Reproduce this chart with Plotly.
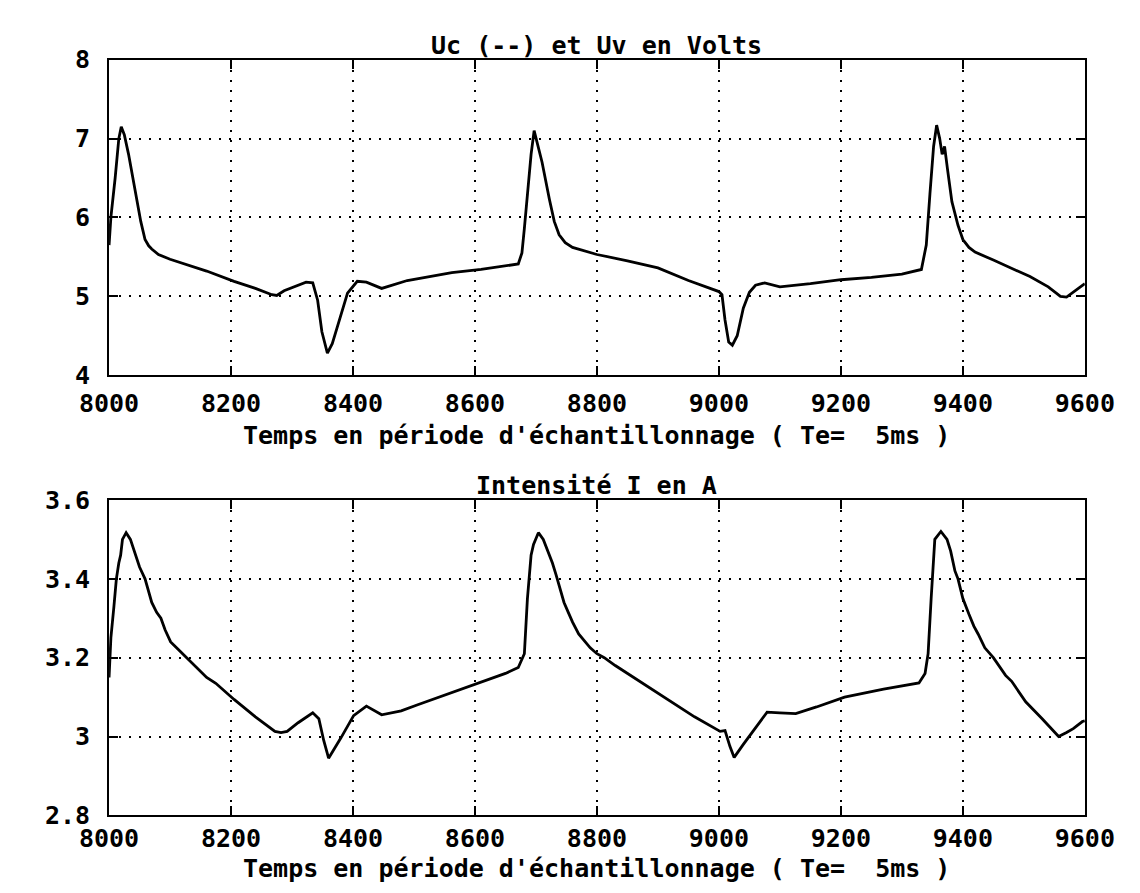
import plotly.graph_objects as go

# ---- data ----
# Uv (top panel), volts
t_uv = [8000, 8003, 8010, 8016, 8020, 8025, 8032, 8040, 8048, 8052,
        8059, 8065, 8070, 8081, 8100, 8121, 8160, 8205, 8240, 8267,
        8275, 8287, 8305, 8323, 8334, 8342, 8349, 8358, 8366, 8375,
        8391, 8407, 8422, 8447, 8489, 8562, 8610, 8671, 8677, 8681,
        8686, 8692, 8697, 8702, 8710, 8722, 8730, 8738, 8748, 8760,
        8780, 8800, 8850, 8900, 8950, 9000, 9005, 9010, 9016, 9022,
        9030, 9040, 9050, 9060, 9075, 9100, 9150, 9200, 9250, 9300,
        9332, 9340, 9346, 9352, 9357, 9362, 9366, 9370, 9375, 9382,
        9392, 9400, 9410, 9420, 9450, 9480, 9510, 9540, 9560, 9570,
        9585, 9600]
uv = [5.65, 6.0, 6.5, 7.0, 7.15, 7.05, 6.8, 6.45, 6.1, 5.95,
      5.72, 5.64, 5.6, 5.53, 5.47, 5.42, 5.32, 5.19, 5.10, 5.02,
      5.01, 5.07, 5.13, 5.18, 5.17, 4.95, 4.55, 4.28, 4.40, 4.64,
      5.04, 5.19, 5.18, 5.10, 5.20, 5.30, 5.34, 5.41, 5.55, 5.86,
      6.27, 6.8, 7.1, 6.95, 6.7, 6.23, 5.95, 5.78, 5.68, 5.62,
      5.57, 5.53, 5.45, 5.36, 5.2, 5.06, 5.02, 4.7, 4.42, 4.38,
      4.5, 4.85, 5.05, 5.14, 5.17, 5.12, 5.16, 5.21, 5.24, 5.28,
      5.34, 5.65, 6.3, 6.9, 7.17, 7.0, 6.8, 6.9, 6.6, 6.2,
      5.9, 5.72, 5.62, 5.56, 5.46, 5.36, 5.25, 5.12, 5.0, 4.99,
      5.07, 5.16]

# I (bottom panel), amperes
t_i = [8000, 8003, 8008, 8012, 8016, 8019, 8022, 8028, 8035, 8044,
       8050, 8059, 8064, 8070, 8078, 8085, 8092, 8101, 8114, 8127,
       8140, 8160, 8175, 8205, 8240, 8272, 8282, 8292, 8310, 8334,
       8344, 8352, 8360, 8370, 8380, 8401, 8422, 8447, 8479, 8505,
       8560, 8610, 8650, 8671, 8681, 8686, 8692, 8696, 8704, 8712,
       8720, 8727, 8733, 8740, 8746, 8753, 8760, 8770, 8778, 8789,
       8800, 8812, 8830, 8860, 8890, 8919, 8960, 9002, 9010, 9018,
       9025, 9040, 9059, 9079, 9100, 9126, 9160, 9206, 9270, 9328,
       9338, 9343, 9348, 9354, 9364, 9374, 9380, 9387, 9392, 9400,
       9410, 9418, 9425, 9436, 9450, 9470, 9480, 9503, 9530, 9557,
       9570, 9581, 9596, 9600]
cur = [3.15, 3.25, 3.33, 3.40, 3.44, 3.46, 3.50, 3.517, 3.50, 3.46,
       3.43, 3.40, 3.37, 3.34, 3.315, 3.30, 3.27, 3.24, 3.22, 3.20,
       3.18, 3.15, 3.135, 3.094, 3.05, 3.013, 3.01, 3.013, 3.035, 3.06,
       3.045, 2.99, 2.945, 2.97, 2.996, 3.053, 3.077, 3.055, 3.065, 3.08,
       3.11, 3.138, 3.16, 3.175, 3.21, 3.35, 3.46, 3.487, 3.517, 3.50,
       3.47, 3.44, 3.41, 3.37, 3.34, 3.315, 3.29, 3.26, 3.245, 3.225,
       3.21, 3.20, 3.18, 3.15, 3.12, 3.09, 3.05, 3.013, 3.015, 2.975,
       2.947, 2.98, 3.02, 3.062, 3.060, 3.058, 3.075, 3.10, 3.12, 3.136,
       3.16, 3.21, 3.35, 3.50, 3.52, 3.50, 3.47, 3.42, 3.40, 3.35,
       3.31, 3.28, 3.26, 3.225, 3.20, 3.155, 3.14, 3.088, 3.045, 3.00,
       3.01, 3.02, 3.038, 3.04]

x_ticks = [8000, 8200, 8400, 8600, 8800, 9000, 9200, 9400, 9600]
x_ticktext = ["8000", "8200", "8400", "8600", "8800", "9000", "9200", "9400", "9600"]
y1_ticks = [4, 5, 6, 7, 8]
y1_ticktext = ["4", "5", "6", "7", "8"]
y2_ticks = [2.8, 3.0, 3.2, 3.4, 3.6]
y2_ticktext = ["2.8", "3", "3.2", "3.4", "3.6"]

title_top = "Uc (--) et Uv en Volts"
title_bot = "Intensité I en A"
xlabel = "Temps en période d'échantillonnage ( Te=  5ms )"

# ---- figure ----
W, H = 1140, 893
FONT = dict(family="DejaVu Sans Mono", size=25, color="black", weight="bold")

def py(p):
    return 1 - p / H

fig = go.Figure()
fig.add_trace(go.Scatter(x=t_uv, y=uv, mode="lines", line=dict(color="black", width=2.8),
                         xaxis="x", yaxis="y", showlegend=False))
fig.add_trace(go.Scatter(x=t_i, y=cur, mode="lines", line=dict(color="black", width=2.8),
                         xaxis="x2", yaxis="y2", showlegend=False))

xdom = [75 / W, 1105 / W]
axis_common = dict(showline=True, linecolor="black", linewidth=2, mirror="ticks",
                   ticks="inside", ticklen=9, tickwidth=2, tickcolor="black",
                   showgrid=True, gridcolor="black", gridwidth=2, griddash="2px,8px",
                   zeroline=False, tickfont=FONT)

fig.update_layout(
    width=W, height=H, margin=dict(l=0, r=0, t=0, b=0),
    paper_bgcolor="white", plot_bgcolor="white",
    xaxis=dict(domain=xdom, range=[8000, 9600], tickvals=x_ticks, ticktext=x_ticktext,
               anchor="y", ticklabelstandoff=5, **axis_common),
    yaxis=dict(domain=[py(365), py(39)], range=[4, 8], tickvals=y1_ticks, ticktext=y1_ticktext,
               anchor="x", ticklabelstandoff=12, **axis_common),
    xaxis2=dict(domain=xdom, range=[8000, 9600], tickvals=x_ticks, ticktext=x_ticktext,
                anchor="y2", ticklabelstandoff=0, **axis_common),
    yaxis2=dict(domain=[py(820), py(494)], range=[2.8, 3.6], tickvals=y2_ticks, ticktext=y2_ticktext,
                anchor="x2", ticklabelstandoff=12, **axis_common),
)

for txt, ypx in [(title_top, 24), (xlabel, 427), (title_bot, 479), (xlabel, 875)]:
    fig.add_annotation(text=txt, x=590 / W, y=py(ypx), xref="paper", yref="paper",
                       xanchor="center", yanchor="middle", showarrow=False, font=FONT)

fig.write_html("out.html")
